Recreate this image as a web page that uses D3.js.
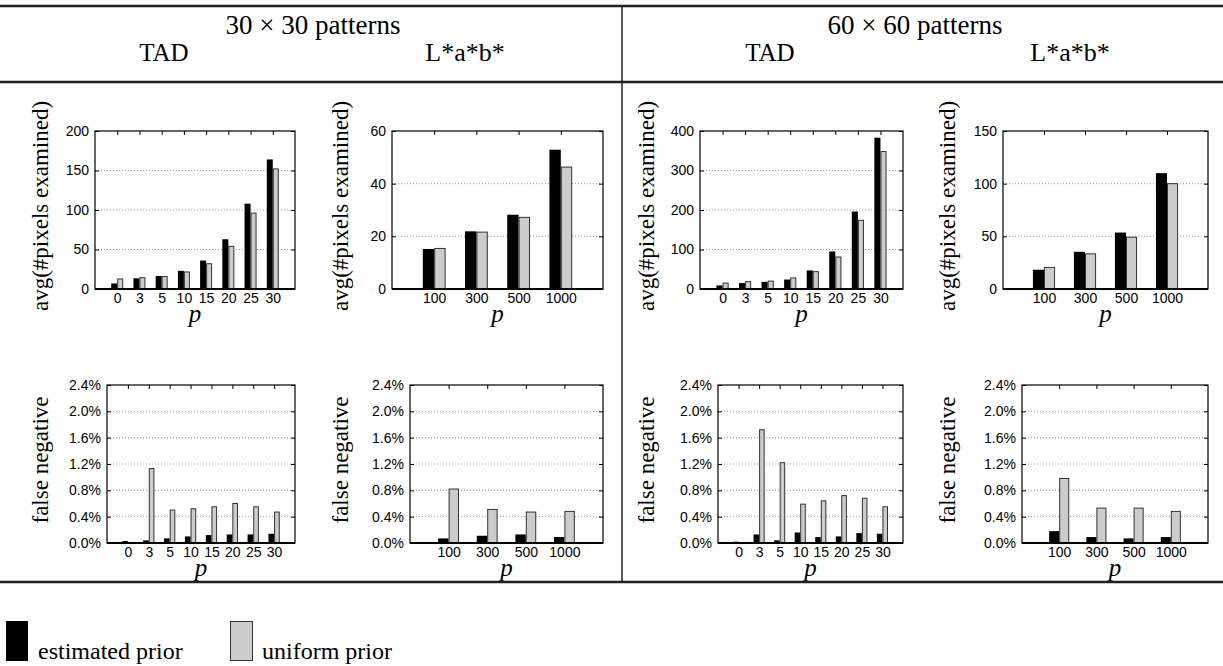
<!DOCTYPE html>
<html>
<head>
<meta charset="utf-8">
<script src="https://cdn.jsdelivr.net/npm/d3@7"></script>
<style>
  body { margin: 0; background: #fff; }
  .tick text { font-family: "Liberation Sans", Arial, sans-serif; font-size: 14px; fill: #000; }
  .serif { font-family: "Liberation Serif", "Times New Roman", serif; fill: #000; }
</style>
</head>
<body>
<div id="chart"></div>
<script>
// categories
var tadP = ["0", "3", "5", "10", "15", "20", "25", "30"];
var labP = ["100", "300", "500", "1000"];

// avg(#pixels examined), 30x30 patterns
var tad30AvgEst = [7, 13.5, 16.5, 23, 36, 63, 108, 164];
var tad30AvgUni = [12.7, 14.4, 15.7, 21.6, 32, 54, 96, 152];
var lab30AvgEst = [15.2, 21.9, 28.2, 52.9];
var lab30AvgUni = [15.4, 21.6, 27.2, 46.3];

// avg(#pixels examined), 60x60 patterns
var tad60AvgEst = [9, 15, 18, 24, 47, 95, 196, 383];
var tad60AvgUni = [15, 18.5, 20, 28, 44, 81, 174, 348];
var lab60AvgEst = [18.3, 35.3, 53.6, 110];
var lab60AvgUni = [20.5, 33.4, 49.2, 100];

// false negative (%), 30x30 patterns
var tad30FnEst = [0.03, 0.04, 0.07, 0.10, 0.12, 0.13, 0.13, 0.14];
var tad30FnUni = [0.005, 1.13, 0.50, 0.52, 0.55, 0.60, 0.55, 0.47];
var lab30FnEst = [0.07, 0.11, 0.13, 0.09];
var lab30FnUni = [0.82, 0.51, 0.47, 0.48];

// false negative (%), 60x60 patterns
var tad60FnEst = [0.02, 0.13, 0.04, 0.16, 0.09, 0.10, 0.15, 0.14];
var tad60FnUni = [0.005, 1.72, 1.22, 0.59, 0.64, 0.72, 0.68, 0.55];
var lab60FnEst = [0.18, 0.09, 0.07, 0.09];
var lab60FnUni = [0.98, 0.53, 0.53, 0.48];

// tick values
var avgTicks200 = [0, 50, 100, 150, 200];
var avgTicks60 = [0, 20, 40, 60];
var avgTicks400 = [0, 100, 200, 300, 400];
var avgTicks150 = [0, 50, 100, 150];
var fnTicks = [0, 0.4, 0.8, 1.2, 1.6, 2.0, 2.4];

var W = 1223, H = 666;
var svg = d3.select('#chart').append('svg')
    .attr('width', W)
    .attr('height', H);

var estColor = "#000", uniColor = "#cccccc", uniStroke = "#333";

// table rules
function rule(x1, y1, x2, y2, w) {
    svg.append('line')
        .attr('x1', x1).attr('y1', y1).attr('x2', x2).attr('y2', y2)
        .attr('stroke', '#222').attr('stroke-width', w);
}
rule(0, 6, W, 6, 2.5);
rule(0, 82, W, 82, 2.5);
rule(0, 582, W, 582, 2.5);
rule(622, 6, 622, 582, 1.5);

function header(x, y, txt, size) {
    svg.append('text').attr('class', 'serif')
        .attr('x', x).attr('y', y)
        .attr('text-anchor', 'middle')
        .style('font-size', size)
        .text(txt);
}
header(313, 34, "30 \u00d7 30 patterns", '27px');
header(915, 34, "60 \u00d7 60 patterns", '27px');
header(164, 61, "TAD", '25px');
header(465, 61, "L*a*b*", '26px');
header(770, 61, "TAD", '25px');
header(1070, 61, "L*a*b*", '26px');

function panel(box, cats, est, uni, yMax, ticks, fmt, ylabel, lx, pOff) {
    var g = svg.append('g');

    var x = d3.scalePoint().domain(cats).range([box.x0, box.x1]).padding(1);
    var y = d3.scaleLinear().domain([0, yMax]).range([box.y1, box.y0]);
    var bw = x.step() * 0.27;

    // dotted grid
    g.selectAll('.grid')
        .data(ticks.filter(function(t) { return t > 0 && t < yMax; }))
        .enter().append('line')
        .attr('x1', box.x0).attr('x2', box.x1)
        .attr('y1', function(d) { return y(d); })
        .attr('y2', function(d) { return y(d); })
        .attr('stroke', '#999').attr('stroke-width', 1)
        .attr('stroke-dasharray', '1,2');

    var rows = cats.map(function(c, i) { return { c: c, e: est[i], u: uni[i] }; });

    g.selectAll('.est')
        .data(rows).enter().append('rect')
        .attr('x', function(d) { return x(d.c) - bw; })
        .attr('y', function(d) { return y(d.e); })
        .attr('width', bw)
        .attr('height', function(d) { return box.y1 - y(d.e); })
        .attr('fill', estColor);

    g.selectAll('.uni')
        .data(rows).enter().append('rect')
        .attr('x', function(d) { return x(d.c) + 0.5; })
        .attr('y', function(d) { return y(d.u); })
        .attr('width', bw - 1)
        .attr('height', function(d) { return box.y1 - y(d.u); })
        .attr('fill', uniColor)
        .attr('stroke', uniStroke).attr('stroke-width', 1);

    // axes (ticks inside, like the original)
    g.append('g')
        .attr('transform', 'translate(' + box.x0 + ',0)')
        .call(d3.axisLeft(y).tickValues(ticks).tickSize(-4).tickPadding(6).tickFormat(fmt))
        .call(function(a) { a.select('.domain').remove(); });

    g.append('g')
        .attr('transform', 'translate(' + box.x1 + ',0)')
        .call(d3.axisRight(y).tickValues(ticks).tickSize(-4).tickFormat(''))
        .call(function(a) { a.select('.domain').remove(); });

    g.append('g')
        .attr('transform', 'translate(0,' + box.y0 + ')')
        .call(d3.axisTop(x).tickSize(-4).tickFormat(''))
        .call(function(a) { a.select('.domain').remove(); });

    g.append('g')
        .attr('transform', 'translate(0,' + box.y1 + ')')
        .call(d3.axisBottom(x).tickSize(0).tickPadding(4))
        .call(function(a) { a.select('.domain').remove(); });

    g.append('rect')
        .attr('x', box.x0).attr('y', box.y0)
        .attr('width', box.x1 - box.x0).attr('height', box.y1 - box.y0)
        .attr('fill', 'none').attr('stroke', '#000').attr('stroke-width', 1.2);

    g.append('line')
        .attr('x1', box.x0).attr('x2', box.x1)
        .attr('y1', box.y1).attr('y2', box.y1)
        .attr('stroke', '#000').attr('stroke-width', 2);

    g.append('text').attr('class', 'serif')
        .attr('transform', 'translate(' + lx + ',' + ((box.y0 + box.y1) / 2 - 4) + ')rotate(-90)')
        .attr('text-anchor', 'middle')
        .style('font-size', '23px')
        .text(ylabel);

    g.append('text').attr('class', 'serif')
        .attr('x', (box.x0 + box.x1) / 2)
        .attr('y', box.y1 + pOff)
        .attr('text-anchor', 'middle')
        .style('font-size', '25px').style('font-style', 'italic')
        .text('p');
}

var avgFmt = d3.format('d');
var fnFmt = function(d) { return d.toFixed(1) + '%'; };
var avgLabel = 'avg(#pixels examined)';
var fnLabel = 'false negative';

panel({ x0: 95, x1: 295, y0: 131, y1: 289 }, tadP, tad30AvgEst, tad30AvgUni, 200, avgTicks200, avgFmt, avgLabel, 48, 33);
panel({ x0: 392, x1: 603, y0: 131, y1: 289 }, labP, lab30AvgEst, lab30AvgUni, 60, avgTicks60, avgFmt, avgLabel, 348, 33);
panel({ x0: 700, x1: 903, y0: 131, y1: 289 }, tadP, tad60AvgEst, tad60AvgUni, 400, avgTicks400, avgFmt, avgLabel, 654, 33);
panel({ x0: 1003, x1: 1208, y0: 131, y1: 289 }, labP, lab60AvgEst, lab60AvgUni, 150, avgTicks150, avgFmt, avgLabel, 955, 33);

panel({ x0: 107, x1: 295, y0: 385, y1: 543 }, tadP, tad30FnEst, tad30FnUni, 2.4, fnTicks, fnFmt, fnLabel, 48, 33);
panel({ x0: 410, x1: 603, y0: 385, y1: 543 }, labP, lab30FnEst, lab30FnUni, 2.4, fnTicks, fnFmt, fnLabel, 348, 33);
panel({ x0: 718, x1: 903, y0: 385, y1: 543 }, tadP, tad60FnEst, tad60FnUni, 2.4, fnTicks, fnFmt, fnLabel, 654, 33);
panel({ x0: 1022, x1: 1208, y0: 385, y1: 543 }, labP, lab60FnEst, lab60FnUni, 2.4, fnTicks, fnFmt, fnLabel, 955, 33);

// legend
var legend = svg.append('g');
legend.append('rect').attr('x', 6).attr('y', 621).attr('width', 22).attr('height', 40).attr('fill', estColor);
legend.append('text').attr('class', 'serif').attr('x', 38).attr('y', 659).style('font-size', '24px').text('estimated prior');
legend.append('rect').attr('x', 230.5).attr('y', 621.5).attr('width', 22).attr('height', 39).attr('fill', uniColor).attr('stroke', uniStroke);
legend.append('text').attr('class', 'serif').attr('x', 262).attr('y', 659).style('font-size', '24px').text('uniform prior');
</script>
</body>
</html>
